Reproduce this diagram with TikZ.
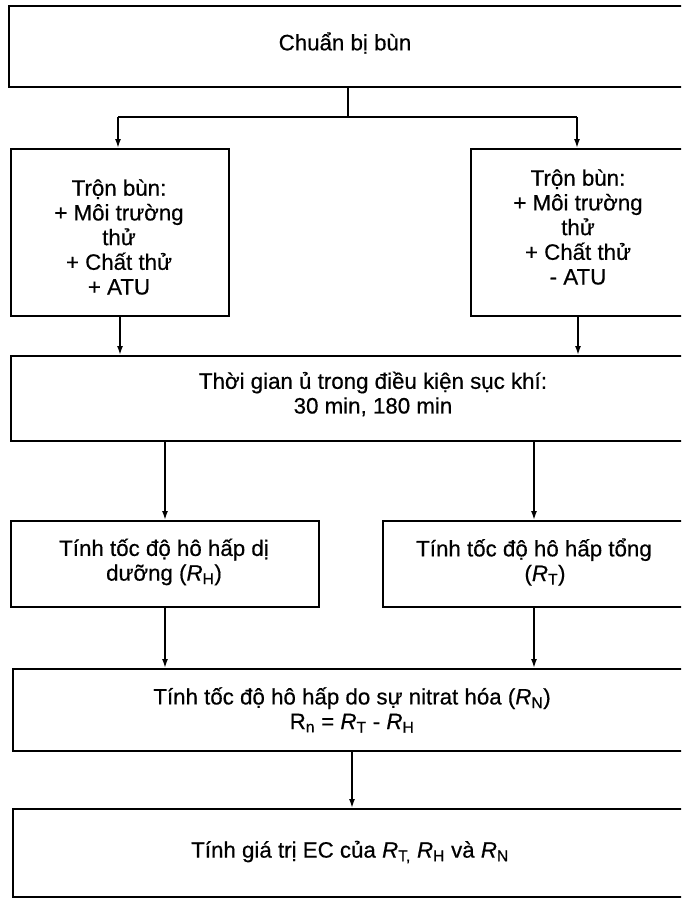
\documentclass[tikz,border=0pt]{standalone}
\usepackage{fontspec}
\setmainfont{Liberation Sans}[FakeBold=0.5]
\usetikzlibrary{arrows.meta}
\begin{document}
\begin{tikzpicture}[x=1pt,y=-1pt,
 box/.style={draw, line width=2pt, anchor=north west, inner sep=0pt},
 txt/.style={align=center, font=\fontsize{22.3}{24.7}\selectfont, inner sep=0pt},
 arr/.style={line width=1.6pt, -{Latex[length=9pt,width=6pt]}},
 ln/.style={line width=1.6pt}]
\useasboundingbox (0,0) rectangle (681,899);
\clip (0,0) rectangle (681,899);
\fill[white] (0,0) rectangle (681,899);
% boxes
\node[box, minimum width=690pt, minimum height=81pt] (A) at (8,5) {};
\node[box, minimum width=218pt, minimum height=167pt] (B) at (10,148) {};
\node[box, minimum width=214pt, minimum height=167pt] (C) at (470,148) {};
\node[box, minimum width=690pt, minimum height=85pt] (D) at (10,355) {};
\node[box, minimum width=308pt, minimum height=86pt] (E) at (10,520) {};
\node[box, minimum width=302pt, minimum height=86pt] (F) at (382,520) {};
\node[box, minimum width=690pt, minimum height=82pt] (G) at (12,668) {};
\node[box, minimum width=690pt, minimum height=88pt] (H) at (12,808) {};
% texts
\node[txt] (tA) at (345,43) {Chuẩn bị bùn};
\node[txt] (tB) at (119,237) {Trộn bùn:\\+ Môi trường\\thử\\+ Chất thử\\+ ATU};
\node[txt] (tC) at (578,227) {Trộn bùn:\\+ Môi trường\\thử\\+ Chất thử\\- ATU};
\node[txt] (tD) at (373,394) {Thời gian ủ trong điều kiện sục khí:\\30 min, 180 min};
\node[txt] (tE) at (164,562) {Tính tốc độ hô hấp dị\\dưỡng (\textit{R}\textsubscript{H})};
\node[txt] (tF) at (534,562) {Tính tốc độ hô hấp tổng\\\hspace*{22pt}(\textit{R}\textsubscript{T})};
\node[txt] (tG) at (352,710) {Tính tốc độ hô hấp do sự nitrat hóa (\textit{R}\textsubscript{N})\\R\textsubscript{n} = \textit{R}\textsubscript{T} - \textit{R}\textsubscript{H}};
\node[txt] (tH) at (350,852) {Tính giá trị EC của \textit{R}\textsubscript{T,} \textit{R}\textsubscript{H} và \textit{R}\textsubscript{N}};
% connectors
\coordinate (s1) at (348,117);
\coordinate (jl) at (118,117);
\coordinate (jr) at (577,117);
\coordinate (gx) at (352,750);
\draw[ln] (s1 |- A.south) -- (s1);
\draw[ln] (jl) -- (jr);
\draw[arr] (jl) -- (jl |- B.north);
\draw[arr] (jr) -- (jr |- C.north);
\draw[arr] (B.south) -- (B.south |- D.north);
\draw[arr] (C.south) -- (C.south |- D.north);
\draw[arr] (E.north |- D.south) -- (E.north);
\draw[arr] (F.north |- D.south) -- (F.north);
\draw[arr] (E.south) -- (E.south |- G.north);
\draw[arr] (F.south) -- (F.south |- G.north);
\draw[arr] (gx |- G.south) -- (gx |- H.north);
\end{tikzpicture}
\end{document}
